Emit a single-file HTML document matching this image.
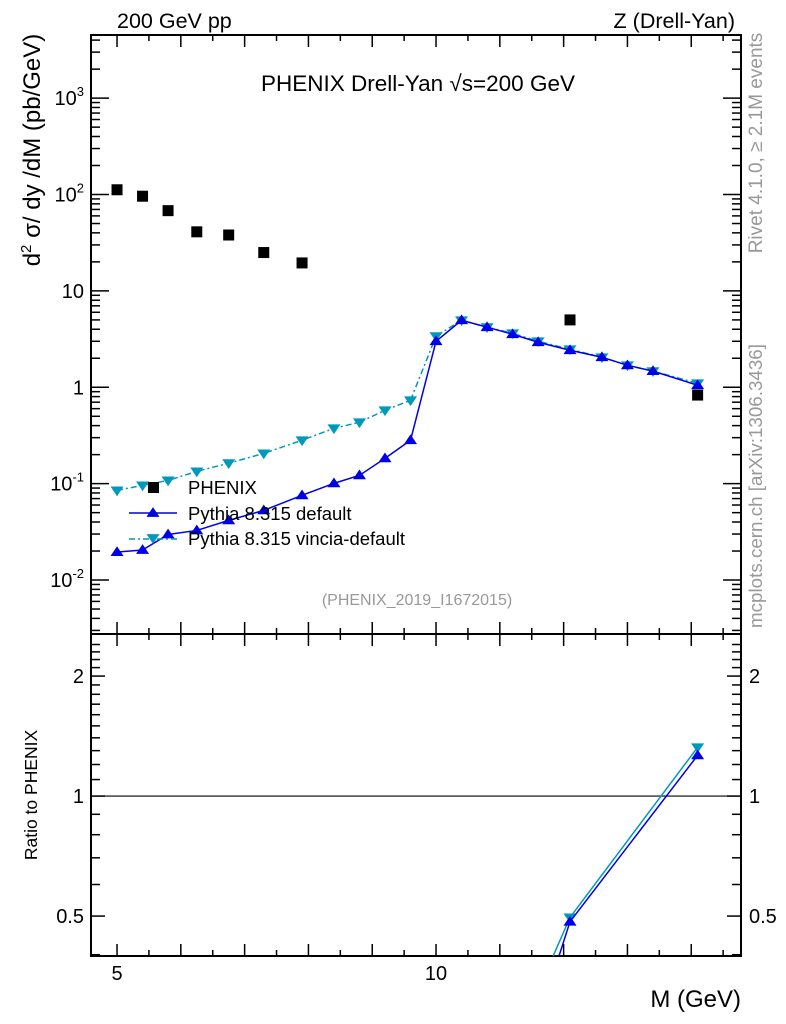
<!DOCTYPE html>
<html><head><meta charset="utf-8"><style>
html,body{margin:0;background:#fff;width:786px;height:1024px;overflow:hidden}
svg{display:block;font-family:"Liberation Sans",sans-serif}
</style></head><body>
<svg id="c" width="786" height="1024" viewBox="0 0 786 1024">
<g id="static">
<text x="117" y="28" font-size="21.5">200 GeV pp</text>
<text x="735" y="28" font-size="21.5" text-anchor="end">Z (Drell-Yan)</text>
<text x="418" y="91" font-size="22.5" text-anchor="middle">PHENIX Drell-Yan √s=200 GeV</text>
<text x="417" y="605" font-size="16" fill="#999" text-anchor="middle">(PHENIX_2019_I1672015)</text>
<text transform="translate(762,143) rotate(-90)" font-size="19" fill="#999" text-anchor="middle">Rivet 4.1.0, ≥ 2.1M events</text>
<text transform="translate(762,486) rotate(-90)" font-size="18.8" fill="#999" text-anchor="middle">mcplots.cern.ch [arXiv:1306.3436]</text>
<text transform="translate(40,150) rotate(-90)" font-size="24" text-anchor="middle">d<tspan dy="-9" font-size="15">2</tspan><tspan dy="9"> σ/ dy /dM (pb/GeV)</tspan></text>
<text transform="translate(37,795) rotate(-90)" font-size="17.5" text-anchor="middle">Ratio to PHENIX</text>
<text x="741" y="1007" font-size="24" text-anchor="end">M (GeV)</text>
</g>
<g id="dyn"></g>
</svg>
<script>
const masses=[5.0,5.4,5.8,6.25,6.75,7.3,7.9,8.4,8.8,9.2,9.6,10.0,10.4,10.8,11.2,11.6,12.1,12.6,13.0,13.4,14.1];
const phenix=[112,96,68,41,38,25,19.5,null,null,null,null,null,null,null,null,null,5.0,null,null,null,0.83];
const pythiaDefault=[0.0195,0.0205,0.0297,0.0327,0.0416,0.0528,0.0757,0.1007,0.122,0.183,0.282,3.0,4.96,4.2,3.55,2.93,2.42,2.05,1.69,1.47,1.05];
const pythiaVincia=[0.085,0.096,0.108,0.134,0.163,0.206,0.282,0.375,0.433,0.577,0.733,3.39,4.96,4.2,3.63,3.0,2.48,2.05,1.69,1.47,1.10];
const xTickLabels=[5,10];
const yTickLabels=["10^-2","10^-1","1","10","10^2","10^3"];
const ratioTickLabels=[0.5,1,2];

const NS="http://www.w3.org/2000/svg";
const g=document.getElementById('dyn');
const L=91,R=741,T=35,B=634,RT=634,RB=956;
const xMin=4.592,xMax=14.78;
const X=m=>L+(m-xMin)/(xMax-xMin)*(R-L);
const yMinL=-2.56,yMaxL=3.655;
const Y=v=>B-(Math.log10(v)-yMinL)/(yMaxL-yMinL)*(B-T);
const rMin=Math.log2(0.397),rMax=Math.log2(2.55);
const RY=v=>RB-(Math.log2(v)-rMin)/(rMax-rMin)*(RB-RT);
function mk(t,a,p){const e=document.createElementNS(NS,t);for(const k in a)e.setAttribute(k,a[k]);(p||g).appendChild(e);return e;}

const defs=mk('defs',{});
const cp1=mk('clipPath',{id:'cm'},defs);mk('rect',{x:L,y:T,width:R-L,height:B-T},cp1);
const cp2=mk('clipPath',{id:'cr'},defs);mk('rect',{x:L,y:RT,width:R-L,height:RB-RT},cp2);

let f=mk('rect',{x:L,y:T,width:R-L,height:B-T,fill:'none',stroke:'#000','stroke-width':2});


f=mk('rect',{x:L,y:RT,width:R-L,height:RB-RT,fill:'none',stroke:'#000','stroke-width':2});



for(let m=5;m<=14.5;m+=0.5){
  const x=X(m);const len=(m%1===0)?12:6;
  for(const [top,bot] of [[T,B],[RT,RB]]){
    mk('line',{x1:x,x2:x,y1:bot,y2:bot-len,stroke:'#000','stroke-width':1.5});
    mk('line',{x1:x,x2:x,y1:top,y2:top+len,stroke:'#000','stroke-width':1.5});
  }
}
xTickLabels.forEach(v=>{const t=mk('text',{x:X(v),y:980,'font-size':20,'text-anchor':'middle'});t.textContent=v;

});

for(let d=-3;d<=3;d++){for(let k=1;k<10;k++){const v=k*Math.pow(10,d);const y=Y(v);if(y<T||y>B)continue;
 const len=k===1?18:9;
 mk('line',{x1:L,x2:L+len,y1:y,y2:y,stroke:'#000','stroke-width':1.5});
 mk('line',{x1:R,x2:R-len,y1:y,y2:y,stroke:'#000','stroke-width':1.5});}}
yTickLabels.forEach((s,i)=>{const v=Math.pow(10,i-2);const y=Y(v)+7;
 const t=mk('text',{x:84,y:y,'font-size':20,'text-anchor':'end'});
 
 
 if(s.startsWith('10^')){t.textContent='10';const ts=mk('tspan',{dy:-9,'font-size':13},t);ts.textContent=s.slice(3);}else t.textContent=s;});

for(let v=0.4;v<=2.5;v+=0.1){const y=RY(v);if(y<RT||y>RB)continue;
 const maj=Math.abs(v-0.5)<1e-6||Math.abs(v-1)<1e-6||Math.abs(v-2)<1e-6;const len=maj?14:9;
 mk('line',{x1:L,x2:L+len,y1:y,y2:y,stroke:'#000','stroke-width':1.5});
 mk('line',{x1:R,x2:R-len,y1:y,y2:y,stroke:'#000','stroke-width':1.5});}
ratioTickLabels.forEach(v=>{const y=RY(v)+7;
 let t=mk('text',{x:84,y:y,'font-size':20,'text-anchor':'end'});t.textContent=v;
 
 
 t=mk('text',{x:749,y:y,'font-size':20});t.textContent=v;
 
 });
mk('line',{x1:L,x2:R,y1:RY(1),y2:RY(1),stroke:'#000','stroke-width':1.2});

function tri(x,y,up,col,p){const s=6.5;const pts=up?`${x-s},${y+s*0.6} ${x+s},${y+s*0.6} ${x},${y-s*0.9}`:`${x-s},${y-s*0.6} ${x+s},${y-s*0.6} ${x},${y+s*0.9}`;return mk('polygon',{points:pts,fill:col},p);}

const blue='#0000e6',cyan='#0099bb';
function series(vals,col,up,dash,name){
 const gm=mk('g',{'clip-path':'url(#cm)'});
 
 
 mk('polyline',{points:vals.map((v,i)=>X(masses[i])+','+Y(v)).join(' '),fill:'none',stroke:col,'stroke-width':1.5,'stroke-dasharray':dash||'none'},gm);
 vals.forEach((v,i)=>{const p=tri(X(masses[i]),Y(v),up,col,gm);
 
 });
 const gr=mk('g',{'clip-path':'url(#cr)'});
 
 
 const rp=[];vals.forEach((v,i)=>{if(phenix[i])rp.push([X(masses[i]),RY(v/phenix[i])]);});
 // clip segments to panel bottom so geometry stays in frame
 const pts=[];
 for(let k=0;k<rp.length;k++){
   const [x,y]=rp[k];
   if(y<=RB){ if(k>0&&rp[k-1][1]>RB){const [x0,y0]=rp[k-1];const tt=(RB-y0)/(y-y0);pts.push([x0+(x-x0)*tt,RB]);} pts.push([x,y]); }
 }
 mk('polyline',{points:pts.map(p=>p.join(',')).join(' '),fill:'none',stroke:col,'stroke-width':1.5},gr);
 rp.forEach(p=>{if(p[1]>RB+10)return;const q=tri(p[0],p[1],up,col,gr);
 
 });
}
series(pythiaVincia,cyan,false,'6,3,2,3','pythia-vincia');
series(pythiaDefault,blue,true,null,'pythia-default');

const gd=mk('g',{'clip-path':'url(#cm)'});


phenix.forEach((v,i)=>{if(v==null)return;const r=mk('rect',{x:X(masses[i])-5.5,y:Y(v)-5.5,width:11,height:11,fill:'#000'},gd);
 
 });

const lg=mk('g',{});


mk('rect',{x:148,y:482,width:11,height:11,fill:'#000'},lg);
let t=mk('text',{x:188,y:494,'font-size':18.5},lg);t.textContent='PHENIX';


mk('line',{x1:129,x2:177,y1:513,y2:513,stroke:blue,'stroke-width':1.5},lg);tri(153,513,true,blue,lg);
t=mk('text',{x:188,y:520,'font-size':18.5},lg);t.textContent='Pythia 8.315 default';


mk('line',{x1:129,x2:177,y1:539,y2:539,stroke:cyan,'stroke-width':1.5,'stroke-dasharray':'6,3,2,3'},lg);tri(153,538,false,cyan,lg);
t=mk('text',{x:188,y:545,'font-size':18.5},lg);t.textContent='Pythia 8.315 vincia-default';


</script>
</body></html>
